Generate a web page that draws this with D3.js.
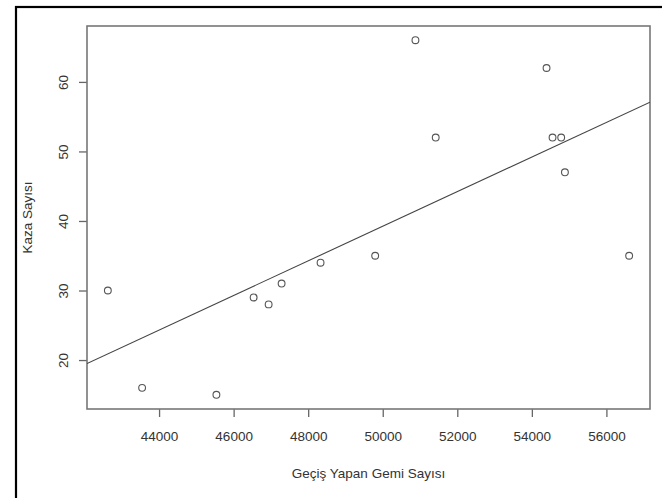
<!DOCTYPE html>
<html>
<head>
<meta charset="utf-8">
<script src="https://cdn.jsdelivr.net/npm/d3@7"></script>
<style>
  body { margin: 0; background: #fff; }
  text { font-family: "Liberation Sans", Arial, sans-serif; fill: #333; }
</style>
</head>
<body>
<div id="chart"></div>
<script>
const width = 662;
const height = 498;
const margin = { top: 26, right: 12, bottom: 89, left: 87 };

// Geçiş yapan gemi sayısı / kaza sayısı
const ships = [42626, 43545, 45538, 46537, 46939, 47287, 48332, 49797, 50877, 51421, 54394, 54555, 54787, 54887, 56610];
const accidents = [30, 16, 15, 29, 28, 31, 34, 35, 66, 52, 62, 52, 52, 47, 35];
const xTicks = [44000, 46000, 48000, 50000, 52000, 54000, 56000];
const yTicks = [20, 30, 40, 50, 60];

const data = ships.map((s, i) => ({ x: s, y: accidents[i] }));

// R style axis range: data range padded 4% each side
function pad(ext) {
  const d = (ext[1] - ext[0]) * 0.04;
  return [ext[0] - d, ext[1] + d];
}

const x = d3.scaleLinear()
  .domain(pad(d3.extent(ships)))
  .range([margin.left, width - margin.right]);

const y = d3.scaleLinear()
  .domain(pad(d3.extent(accidents)))
  .range([height - margin.bottom, margin.top]);

// least squares fit (abline(lm(...)))
const mx = d3.mean(ships);
const my = d3.mean(accidents);
const slope = d3.sum(data, (d) => (d.x - mx) * (d.y - my)) / d3.sum(data, (d) => (d.x - mx) ** 2);
const intercept = my - slope * mx;

const svg = d3.select("#chart").append("svg")
  .attr("width", width)
  .attr("height", height);

// outer frame
svg.append("rect")
  .attr("x", 16)
  .attr("y", 7)
  .attr("width", width)
  .attr("height", height)
  .attr("fill", "none")
  .attr("stroke", "#000")
  .attr("stroke-width", 2.2);

svg.append("clipPath")
  .attr("id", "clip")
  .append("rect")
  .attr("x", margin.left)
  .attr("y", margin.top)
  .attr("width", width - margin.left - margin.right)
  .attr("height", height - margin.top - margin.bottom);

const xAxis = (g) =>
  g
    .attr("transform", `translate(0,${height - margin.bottom})`)
    .call(d3.axisBottom(x).tickValues(xTicks).tickSize(8).tickPadding(14).tickFormat(d3.format("d")))
    .call((g) => g.select(".domain").remove());

const yAxis = (g) =>
  g
    .attr("transform", `translate(${margin.left},0)`)
    .call(d3.axisLeft(y).tickValues(yTicks).tickSize(8).tickPadding(0))
    .call((g) => g.select(".domain").remove())
    .call((g) =>
      g.selectAll(".tick text")
        .attr("transform", "translate(-24,0) rotate(-90)")
        .attr("x", 0)
        .attr("dy", "0.35em")
        .attr("text-anchor", "middle")
    );

svg.append("g").call(xAxis);
svg.append("g").call(yAxis);

svg.selectAll(".tick line").attr("stroke", "#666").attr("stroke-width", 1.3);
svg.selectAll(".tick text")
  .attr("font-size", "13.5px")
  .attr("font-family", "Liberation Sans, Arial, sans-serif")
  .attr("fill", "#333");

// plot box
svg.append("rect")
  .attr("x", margin.left)
  .attr("y", margin.top)
  .attr("width", width - margin.left - margin.right)
  .attr("height", height - margin.top - margin.bottom)
  .attr("fill", "none")
  .attr("stroke", "#777")
  .attr("stroke-width", 1.6);

// regression line
const [x0, x1] = x.domain();
svg.append("line")
  .attr("clip-path", "url(#clip)")
  .attr("x1", x(x0))
  .attr("y1", y(intercept + slope * x0))
  .attr("x2", x(x1))
  .attr("y2", y(intercept + slope * x1))
  .attr("stroke", "#444")
  .attr("stroke-width", 1.1);

svg.append("g")
  .selectAll("circle")
  .data(data)
  .join("circle")
  .attr("cx", (d) => x(d.x))
  .attr("cy", (d) => y(d.y))
  .attr("r", 3.4)
  .attr("fill", "none")
  .attr("stroke", "#555")
  .attr("stroke-width", 1.1);

svg.append("text")
  .attr("x", (margin.left + width - margin.right) / 2)
  .attr("y", 473)
  .attr("dy", "0.35em")
  .attr("text-anchor", "middle")
  .attr("font-size", "13.5px")
  .text("Geçiş Yapan Gemi Sayısı");

svg.append("text")
  .attr("transform", `translate(27,${(margin.top + height - margin.bottom) / 2}) rotate(-90)`)
  .attr("dy", "0.35em")
  .attr("text-anchor", "middle")
  .attr("font-size", "13.5px")
  .text("Kaza Sayısı");
</script>
</body>
</html>
